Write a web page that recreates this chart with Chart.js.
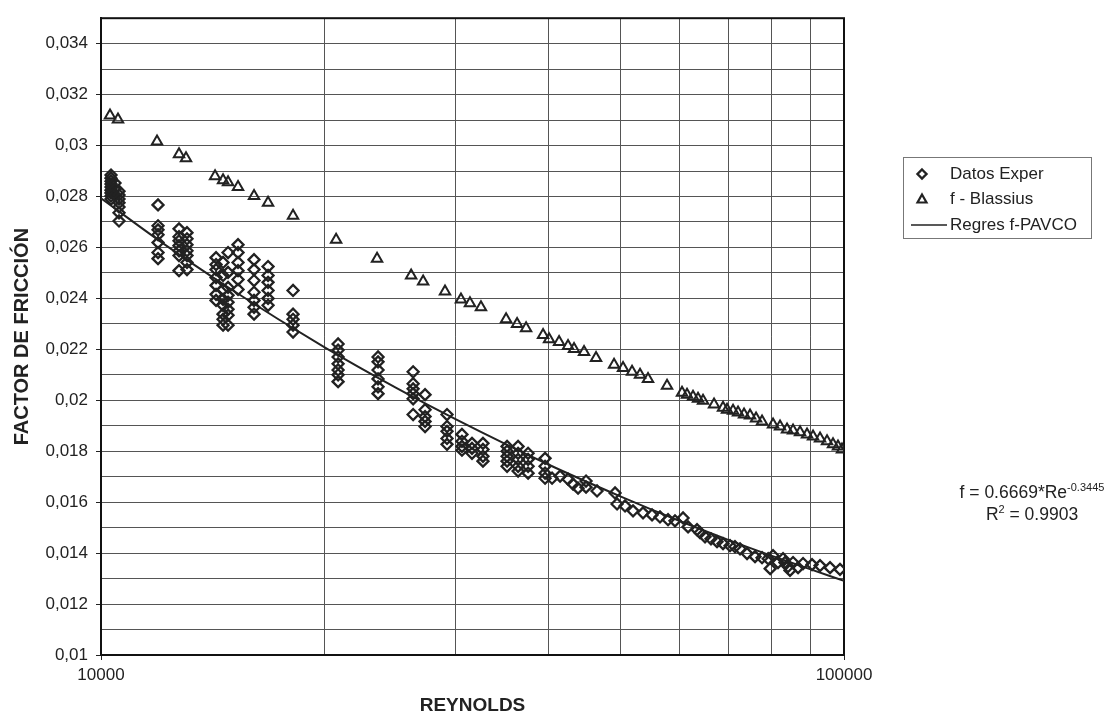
<!DOCTYPE html>
<html>
<head>
<meta charset="utf-8">
<script src="https://cdn.jsdelivr.net/npm/chart.js@4.4.1/dist/chart.umd.min.js"></script>
<style>
  body { margin: 0; background: #fff; font-family: "Liberation Sans", Arial, sans-serif; color: #222; }
  #wrap { position: relative; width: 1118px; height: 723px; }
  #legend { position: absolute; left: 903px; top: 157px; width: 189px; height: 82px;
            border: 1px solid #777; box-sizing: border-box; font-size: 17px; }
  .item { position: absolute; left: 0; height: 24px; display: flex; align-items: center; white-space: nowrap; }
  .item svg { margin-left: 6px; margin-right: 0; }
  #eq { position: absolute; left: 942px; top: 481px; width: 180px; text-align: center;
        font-size: 17.5px; line-height: 22px; }
  #eq sup { font-size: 11px; vertical-align: 7px; line-height: 0; }
</style>
</head>
<body>
<div id="wrap">
  <canvas id="chart"></canvas>
  <div id="legend"></div>
  <div id="eq">f = 0.6669*Re<sup>-0.3445</sup><br>R<sup>2</sup> = 0.9903</div>
</div>
<script>
// axes
const xGridValues = [10000, 20000, 30000, 40000, 50000, 60000, 70000, 80000, 90000, 100000];
const xLabelValues = [10000, 100000];
const yGridValues = [0.010, 0.011, 0.012, 0.013, 0.014, 0.015, 0.016, 0.017, 0.018, 0.019, 0.020, 0.021, 0.022,
                     0.023, 0.024, 0.025, 0.026, 0.027, 0.028, 0.029, 0.030, 0.031, 0.032, 0.033, 0.034, 0.035];
const yLabelValues = [0.010, 0.012, 0.014, 0.016, 0.018, 0.020, 0.022, 0.024, 0.026, 0.028, 0.030, 0.032, 0.034];

// Datos Exper: one Reynolds value per column, the friction factors measured at it
const expColRe = [10315, 10443, 10574, 11933, 12735, 13054, 14284, 14597, 14825, 15291, 16068, 16782, 18133,
                  20850, 23598, 26308, 27300, 29221, 30607, 31574, 32666, 35200, 36421, 37568, 39598,
                  40465, 41484, 42518, 43183, 43858, 44958, 46517, 49189, 49495, 50735, 52009, 53644, 55162,
                  56540, 57967, 59230, 60726, 61677, 63415, 64010, 65007, 66220, 67469, 68740, 70242, 71330,
                  72455, 74046, 75904, 77570, 79060, 79550, 80260, 81500, 82786, 83280, 84060, 84590, 85391,
                  86730, 88083, 90569, 92842, 95769, 98769];
const expColF = [
  [0.02884, 0.02872, 0.02860, 0.02849, 0.02837, 0.02825, 0.02814, 0.02802, 0.02790],
  [0.02853, 0.02829, 0.02806],
  [0.02821, 0.02806, 0.02790, 0.02775, 0.02759, 0.02736, 0.02704],
  [0.02767, 0.02685, 0.02669, 0.02650, 0.02619, 0.02580, 0.02556],
  [0.02673, 0.02642, 0.02626, 0.02607, 0.02587, 0.02568, 0.02509],
  [0.02658, 0.02634, 0.02611, 0.02587, 0.02568, 0.02541, 0.02513],
  [0.02560, 0.02533, 0.02513, 0.02482, 0.02451, 0.02416, 0.02392],
  [0.02541, 0.02490, 0.02435, 0.02396, 0.02373, 0.02338, 0.02318, 0.02295],
  [0.02580, 0.02502, 0.02443, 0.02412, 0.02385, 0.02357, 0.02334, 0.02295],
  [0.02611, 0.02580, 0.02541, 0.02509, 0.02474, 0.02435],
  [0.02552, 0.02513, 0.02470, 0.02424, 0.02392, 0.02365, 0.02338],
  [0.02525, 0.02490, 0.02463, 0.02431, 0.02400, 0.02373],
  [0.02431, 0.02338, 0.02318, 0.02295, 0.02268],
  [0.02221, 0.02197, 0.02170, 0.02143, 0.02119, 0.02100, 0.02073],
  [0.02170, 0.02151, 0.02119, 0.02084, 0.02053, 0.02026],
  [0.02112, 0.02065, 0.02045, 0.02026, 0.02006, 0.01944],
  [0.02022, 0.01963, 0.01936, 0.01917, 0.01897],
  [0.01944, 0.01897, 0.01878, 0.01850, 0.01827],
  [0.01866, 0.01839, 0.01819, 0.01804],
  [0.01831, 0.01811, 0.01792],
  [0.01831, 0.01807, 0.01780, 0.01761],
  [0.01819, 0.01800, 0.01780, 0.01761, 0.01741],
  [0.01819, 0.01792, 0.01768, 0.01741, 0.01722],
  [0.01792, 0.01768, 0.01741, 0.01714],
  [0.01772, 0.01741, 0.01714, 0.01694],
  [0.01694], [0.01702], [0.01690], [0.01671], [0.01655], [0.01683, 0.01659], [0.01644], [0.01636],
  [0.01593], [0.01585], [0.01566], [0.01558], [0.01550], [0.01542], [0.01531], [0.01527], [0.01538],
  [0.01503], [0.01492], [0.01480], [0.01464], [0.01456], [0.01445], [0.01437], [0.01429], [0.01425],
  [0.01417], [0.01398], [0.01386], [0.01382], [0.01378], [0.01339], [0.01390], [0.01363], [0.01378],
  [0.01363], [0.01347], [0.01332], [0.01363], [0.01343], [0.01359], [0.01355], [0.01351], [0.01343],
  [0.01336]
];

// f - Blassius
const blasRe = [10283, 10541, 11896, 12735, 13014, 14240, 14597, 14825, 15291, 16068, 16782, 18133, 20722,
                23526, 26146, 27137, 29040, 30512, 31375, 32463, 35092, 36308, 37335, 39354, 40092, 41355,
                42518, 43316, 44681, 46374, 49036, 50422, 51848, 53147, 54479, 57787, 60533, 61479, 62632,
                63612, 64607, 66848, 68739, 69596, 70902, 72010, 73361, 74738, 76142, 77570, 80260, 82019,
                83817, 85391, 87264, 89176, 90852, 92842, 94878, 96651, 98158, 99383];
const blasF = [0.03118, 0.03102, 0.03016, 0.02966, 0.02950, 0.02880, 0.02864, 0.02856, 0.02837, 0.02802,
               0.02775, 0.02724, 0.02630, 0.02556, 0.02490, 0.02466, 0.02427, 0.02396, 0.02381, 0.02365,
               0.02318, 0.02299, 0.02283, 0.02256, 0.02240, 0.02229, 0.02213, 0.02201, 0.02190, 0.02166,
               0.02139, 0.02127, 0.02112, 0.02100, 0.02084, 0.02057, 0.02030, 0.02022, 0.02014, 0.02006,
               0.01998, 0.01983, 0.01971, 0.01963, 0.01959, 0.01952, 0.01944, 0.01940, 0.01928, 0.01917,
               0.01905, 0.01897, 0.01885, 0.01881, 0.01874, 0.01866, 0.01858, 0.01850, 0.01839, 0.01827,
               0.01819, 0.01807];

// Regres f-PAVCO
const regRe = [10000, 12000, 15000, 20000, 25000, 30000, 40000, 50000, 60000, 70000, 80000, 90000, 100000];
const regF = [0.02793, 0.02625, 0.02434, 0.02208, 0.02048, 0.01926, 0.01748, 0.01623, 0.01527, 0.01451,
              0.01389, 0.01337, 0.01291];

const seriesNames = ['Datos Exper', 'f - Blassius', 'Regres f-PAVCO'];

const ink = '#222';
const expPoints = expColRe.flatMap((re, i) => expColF[i].map(f => ({ x: re, y: f })));
const blasPoints = blasRe.map((re, i) => ({ x: re, y: blasF[i] }));
const regPoints = regRe.map((re, i) => ({ x: re, y: regF[i] }));

const isLabelled = v => yLabelValues.some(l => Math.abs(l - v) < 1e-9);
const fmtY = v => String(+v.toFixed(3)).replace('.', ',');

const frame = {
  id: 'frame',
  beforeDatasetsDraw(chart) {
    const { ctx, chartArea: a } = chart;
    ctx.save();
    ctx.strokeStyle = '#111';
    ctx.lineWidth = 2;
    ctx.strokeRect(a.left, a.top, a.right - a.left, a.bottom - a.top);
    ctx.restore();
  }
};

const chart = new Chart(document.getElementById('chart').getContext('2d'), {
  type: 'scatter',
  data: {
    datasets: [
      { label: seriesNames[0], data: expPoints, pointStyle: 'rectRot', pointRadius: 5.5, borderWidth: 2.3,
        borderColor: ink, backgroundColor: 'rgba(0,0,0,0)', order: 2 },
      { label: seriesNames[1], data: blasPoints, pointStyle: 'triangle', pointRadius: 6, borderWidth: 2,
        borderColor: ink, backgroundColor: 'rgba(0,0,0,0)', order: 3 },
      { label: seriesNames[2], type: 'line', data: regPoints, showLine: true, borderColor: ink, borderWidth: 2,
        pointRadius: 0, cubicInterpolationMode: 'monotone', fill: false, order: 1 }
    ]
  },
  options: {
    responsive: true,
    maintainAspectRatio: false,
    animation: false,
    layout: { padding: { left: 0, right: 274, top: 14, bottom: 0 } },
    plugins: { legend: { display: false }, tooltip: { enabled: false } },
    scales: {
      x: {
        type: 'logarithmic',
        min: 10000,
        max: 100000,
        afterBuildTicks: s => { s.ticks = xGridValues.map(v => ({ value: v })); },
        afterFit: s => { s.height = 68; },
        ticks: {
          autoSkip: false, maxRotation: 0, padding: 5, color: ink,
          font: { family: 'Liberation Sans', size: 17 },
          callback: v => xLabelValues.includes(v) ? String(v) : ''
        },
        grid: {
          color: '#555', lineWidth: 1, tickLength: 5,
          tickColor: c => xLabelValues.includes(c.tick && c.tick.value) ? ink : 'rgba(0,0,0,0)'
        },
        border: { color: '#111', width: 2 },
        title: {
          display: true, text: 'REYNOLDS', color: ink,
          font: { family: 'Liberation Sans', size: 19, weight: 'bold' },
          padding: { top: 0, bottom: 6 }
        }
      },
      y: {
        type: 'linear',
        min: 0.01,
        max: 0.035,
        afterBuildTicks: s => { s.ticks = yGridValues.map(v => ({ value: v })); },
        afterFit: s => { s.width = 101; },
        ticks: {
          padding: 8, color: ink,
          font: { family: 'Liberation Sans', size: 17 },
          callback: v => isLabelled(v) ? fmtY(v) : ''
        },
        grid: {
          color: '#555', lineWidth: 1, tickLength: 5,
          tickColor: c => (c.tick && isLabelled(c.tick.value)) ? ink : 'rgba(0,0,0,0)'
        },
        border: { color: '#111', width: 2 },
        title: {
          display: true, text: 'FACTOR DE FRICCIÓN', color: ink,
          font: { family: 'Liberation Sans', size: 20, weight: 'bold' },
          padding: { top: 10, bottom: 0 }
        }
      }
    }
  },
  plugins: [frame]
});

// legend box at the right, built from the dataset labels
const symbols = [
  '<svg width="40" height="24"><path d="M12 7.5 L16.5 12 L12 16.5 L7.5 12 Z" fill="none" stroke="#222" stroke-width="2.4"/></svg>',
  '<svg width="40" height="24"><path d="M12 7.5 L16.5 15.5 L7.5 15.5 Z" fill="none" stroke="#222" stroke-width="2.2"/></svg>',
  '<svg width="40" height="24"><line x1="1" y1="12" x2="37" y2="12" stroke="#222" stroke-width="1.6"/></svg>'
];
const rowTops = [4, 29, 55];
const legendEl = document.getElementById('legend');
chart.data.datasets.forEach((ds, i) => {
  const row = document.createElement('div');
  row.className = 'item';
  row.style.top = rowTops[i] + 'px';
  row.innerHTML = symbols[i] + '<span>' + ds.label + '</span>';
  legendEl.appendChild(row);
});
</script>
</body>
</html>
